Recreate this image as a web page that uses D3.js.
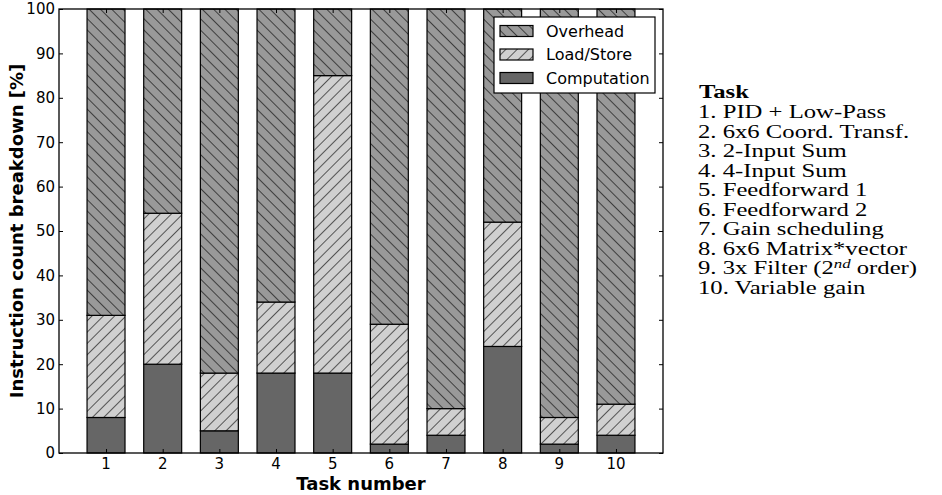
<!DOCTYPE html>
<html lang="en">
<head>
    <meta charset="UTF-8">
    <title>Instruction count breakdown</title>
    <script src="https://d3js.org/d3.v7.min.js"></script>
    <style>
        body {
            margin: 0;
            padding: 0;
            background: #fff;
        }

        svg {
            display: block;
            font-family: "DejaVu Sans", sans-serif;
        }

        .task-list text {
            font-family: "Liberation Serif", serif;
        }
    </style>
</head>
<body>
    <svg id="chart"></svg>

    <script>
        // data (percent)
        const tasks = [1, 2, 3, 4, 5, 6, 7, 8, 9, 10];
        const computation = [8, 20, 5, 18, 18, 2, 4, 24, 2, 4];
        const loadStore = [23, 34, 13, 16, 67, 27, 6, 28, 6, 7];
        const overhead = [69, 46, 82, 66, 15, 71, 90, 48, 92, 89];
        const yTicks = [0, 10, 20, 30, 40, 50, 60, 70, 80, 90, 100];
        const seriesNames = ["Computation", "Load/Store", "Overhead"];
        const taskNames = [
            "PID + Low-Pass",
            "6x6 Coord. Transf.",
            "2-Input Sum",
            "4-Input Sum",
            "Feedforward 1",
            "Feedforward 2",
            "Gain scheduling",
            "6x6 Matrix*vector",
            "3x Filter (2nd order)",
            "Variable gain"
        ];

        const width = 942;
        const height = 495;
        const margin = { top: 9, right: 279, bottom: 42, left: 59 };

        const svg = d3.select("#chart")
            .attr("width", width)
            .attr("height", height);

        const defs = svg.append("defs");

        // hatch patterns like matplotlib "/" and "\\"
        function hatch(id, angle, bg) {
            const p = defs.append("pattern")
                .attr("id", id)
                .attr("patternUnits", "userSpaceOnUse")
                .attr("width", 8)
                .attr("height", 8)
                .attr("patternTransform", `rotate(${angle})`);
            p.append("rect")
                .attr("width", 8)
                .attr("height", 8)
                .attr("fill", bg);
            p.append("line")
                .attr("x1", 0).attr("y1", 0)
                .attr("x2", 0).attr("y2", 8)
                .attr("stroke", "#000")
                .attr("stroke-width", 1.2);
        }
        hatch("hatch-ls", 45, "#d0d0d0");
        hatch("hatch-oh", -45, "#999999");

        const fills = {
            "Computation": "#666666",
            "Load/Store": "url(#hatch-ls)",
            "Overhead": "url(#hatch-oh)"
        };

        const x = d3.scaleLinear()
            .domain([0.17, 10.83])
            .range([margin.left, width - margin.right]);

        const y = d3.scaleLinear()
            .domain([0, 100])
            .range([height - margin.bottom, margin.top]);

        const rows = tasks.map((t, i) => ({
            task: t,
            "Computation": computation[i],
            "Load/Store": loadStore[i],
            "Overhead": overhead[i]
        }));

        const stacked = d3.stack().keys(seriesNames)(rows);
        const barW = x(1.67) - x(1);

        svg.append("g")
            .selectAll("g")
            .data(stacked)
            .join("g")
            .attr("fill", d => fills[d.key])
            .selectAll("rect")
            .data(d => d)
            .join("rect")
            .attr("x", d => x(d.data.task) - barW / 2)
            .attr("y", d => y(d[1]))
            .attr("width", barW)
            .attr("height", d => y(d[0]) - y(d[1]))
            .attr("stroke", "#000")
            .attr("stroke-width", 1.2);

        // axes, ticks pointing inward on all four sides
        const x0 = margin.left, x1 = width - margin.right;
        const y0 = height - margin.bottom, y1 = margin.top;

        svg.append("g")
            .attr("transform", `translate(0,${y0})`)
            .call(d3.axisTop(x).tickValues(tasks).tickSize(4).tickFormat(""))
            .call(g => g.select(".domain").remove());

        svg.append("g")
            .attr("transform", `translate(0,${y1})`)
            .call(d3.axisBottom(x).tickValues(tasks).tickSize(4).tickFormat(""))
            .call(g => g.select(".domain").remove());

        svg.append("g")
            .attr("transform", `translate(${x0},0)`)
            .call(d3.axisRight(y).tickValues(yTicks).tickSize(4).tickFormat(""))
            .call(g => g.select(".domain").remove());

        svg.append("g")
            .attr("transform", `translate(${x1},0)`)
            .call(d3.axisLeft(y).tickValues(yTicks).tickSize(4).tickFormat(""))
            .call(g => g.select(".domain").remove());

        svg.append("rect")
            .attr("x", x0)
            .attr("y", y1)
            .attr("width", x1 - x0)
            .attr("height", y0 - y1)
            .attr("fill", "none")
            .attr("stroke", "#000")
            .attr("stroke-width", 1.3);

        // tick labels
        svg.append("g")
            .selectAll("text")
            .data(tasks)
            .join("text")
            .attr("x", d => x(d))
            .attr("y", y0 + 16)
            .attr("text-anchor", "middle")
            .attr("font-size", 15)
            .text(d => d);

        svg.append("g")
            .selectAll("text")
            .data(yTicks)
            .join("text")
            .attr("x", x0 - 4)
            .attr("y", d => y(d))
            .attr("dy", "0.36em")
            .attr("text-anchor", "end")
            .attr("font-size", 15)
            .text(d => d);

        // axis titles
        svg.append("text")
            .attr("x", (x0 + x1) / 2)
            .attr("y", 490)
            .attr("text-anchor", "middle")
            .attr("font-size", 18)
            .attr("font-weight", "bold")
            .text("Task number");

        svg.append("text")
            .attr("transform", `translate(23,${(y0 + y1) / 2}) rotate(-90)`)
            .attr("text-anchor", "middle")
            .attr("font-size", 18)
            .attr("font-weight", "bold")
            .text("Instruction count breakdown [%]");

        // legend
        const legend = svg.append("g").attr("transform", "translate(494,17)");
        legend.append("rect")
            .attr("width", 161)
            .attr("height", 76)
            .attr("fill", "#fff")
            .attr("stroke", "#000")
            .attr("stroke-width", 1.2);

        const legendItems = seriesNames.slice().reverse();
        const li = legend.selectAll("g")
            .data(legendItems)
            .join("g")
            .attr("transform", (d, i) => `translate(6,${14 + i * 23.5})`);

        li.append("rect")
            .attr("x", 0)
            .attr("y", -5.5)
            .attr("width", 33)
            .attr("height", 11)
            .attr("fill", d => fills[d])
            .attr("stroke", "#000")
            .attr("stroke-width", 1.2);

        li.append("text")
            .attr("x", 46)
            .attr("dy", "0.36em")
            .attr("font-size", 16)
            .text(d => d);

        // task name list on the right (wide serif, like the LaTeX block)
        const sx = 1.3;
        const list = svg.append("g").attr("class", "task-list");
        list.append("text")
            .attr("transform", `translate(699,98) scale(${sx},1)`)
            .attr("font-size", 19)
            .attr("font-weight", "bold")
            .text("Task");

        list.selectAll("text.item")
            .data(taskNames)
            .join("text")
            .attr("class", "item")
            .attr("transform", (d, i) => `translate(698,${118 + i * 19.5}) scale(${sx},1)`)
            .attr("font-size", 19)
            .each(function (d, i) {
                const t = d3.select(this);
                const m = d.match(/^(.*\()2nd( order\))$/);
                if (m) {
                    t.append("tspan").text(`${i + 1}. ${m[1]}2`);
                    t.append("tspan")
                        .attr("dy", -6)
                        .attr("font-size", 13)
                        .attr("font-style", "italic")
                        .text("nd");
                    t.append("tspan").attr("dy", 6).text(m[2]);
                } else {
                    t.text(`${i + 1}. ${d}`);
                }
            });
    </script>
</body>
</html>
